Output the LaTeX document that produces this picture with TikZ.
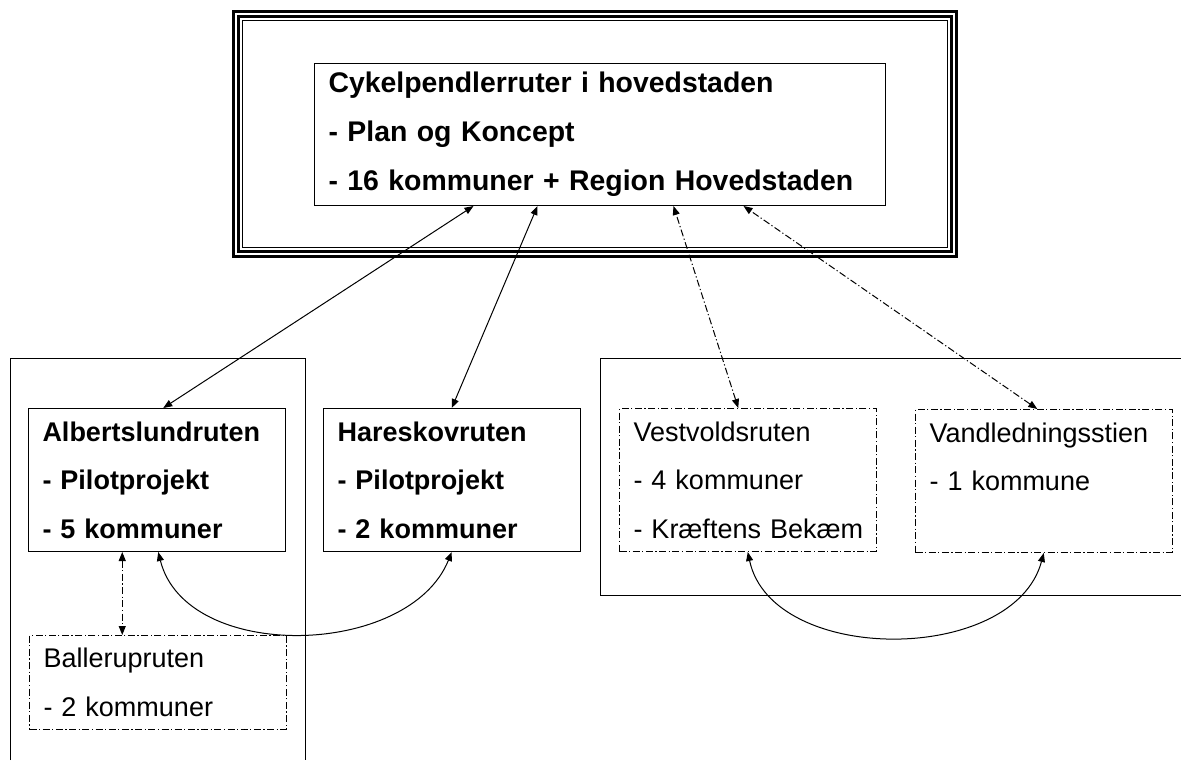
\documentclass[tikz,border=0pt]{standalone}
\usepackage{fontspec}
\setmainfont{Liberation Sans}
\usepackage{tikz}
\usetikzlibrary{arrows.meta, positioning}

\begin{document}
\begin{tikzpicture}[x=0.5pt, y=-0.5pt,
  rute/.style={draw, line width=0.5pt, align=left, anchor=north west,
    inner xsep=7pt, inner ysep=0pt, text width=114.25pt, minimum height=71.5pt,
    font=\fontsize{13.5}{24.25}\selectfont},
  fed/.style={font=\fontsize{13.5}{24.25}\selectfont\bfseries},
  stiplet/.style={dash pattern=on 3.5pt off 1.25pt on 0.6pt off 1.25pt},
  pile/.style={{Triangle[length=4.5pt, width=3.5pt]}-{Triangle[length=4.5pt, width=3.5pt]}, line width=0.5pt}]
  \useasboundingbox (0,0) rectangle (1181,760);

  % Ramme om hovedprojektet
  \draw[line width=1.5pt] (233.5,11.5) rectangle (956.5,256.5);
  \draw[line width=1.5pt] (238.5,16.5) rectangle (951.5,251.5);
  \draw[line width=0.5pt] (242.5,20.5) rectangle (947.5,247.5);

  % Grupper
  \draw[line width=0.5pt] (10,760) -- (10,358) -- (305,358) -- (305,760);
  \draw[line width=0.5pt] (1181,358) -- (600,358) -- (600,595) -- (1181,595);

  % Hovedprojekt
  \node[rute, text width=271.5pt, minimum height=71pt,
        font=\fontsize{14.2}{24.5}\selectfont\bfseries] (hoved) at (314,63)
    {Cykelpendlerruter i hovedstaden\\- Plan og Koncept\\- 16 kommuner + Region Hovedstaden};

  % Ruter
  \node[rute, fed] (albert) at (28,408) {Albertslundruten\\- Pilotprojekt\\- 5 kommuner};
  \node[rute, fed] (hareskov) at (323,408) {Hareskovruten\\- Pilotprojekt\\- 2 kommuner};
  \node[rute, stiplet] (vestvold) at (619,408) {Vestvoldsruten\\- 4 kommuner\\\mbox{- Kræftens Bekæm}};
  \node[rute, stiplet, text depth=48.5pt] (vandled) at (915,409) {Vandledningsstien\\- 1 kommune};
  \node[rute, stiplet, minimum height=47pt] (ballerup) at (29,635) {Ballerupruten\\- 2 kommuner};

  % Forbindelser
  \draw[pile] ([xshift=3.25pt]albert.north) -- ([xshift=-63.25pt]hoved.south);
  \draw[pile] (hareskov.north) -- ([xshift=-31.25pt]hoved.south);
  \draw[pile, stiplet] ([xshift=-4.75pt]vestvold.north) -- ([xshift=36.75pt]hoved.south);
  \draw[pile, stiplet] ([xshift=-3.25pt]vandled.north) -- ([xshift=71.75pt]hoved.south);
  \draw[pile, stiplet] ([xshift=-17.25pt]albert.south) -- ([xshift=-17.75pt]ballerup.north);
  \draw[pile] ([xshift=0.75pt]albert.south) to[out=-76, in=-112] (hareskov.south);
  \draw[pile] (vestvold.south) to[out=-78, in=-105] (vandled.south);
\end{tikzpicture}
\end{document}
